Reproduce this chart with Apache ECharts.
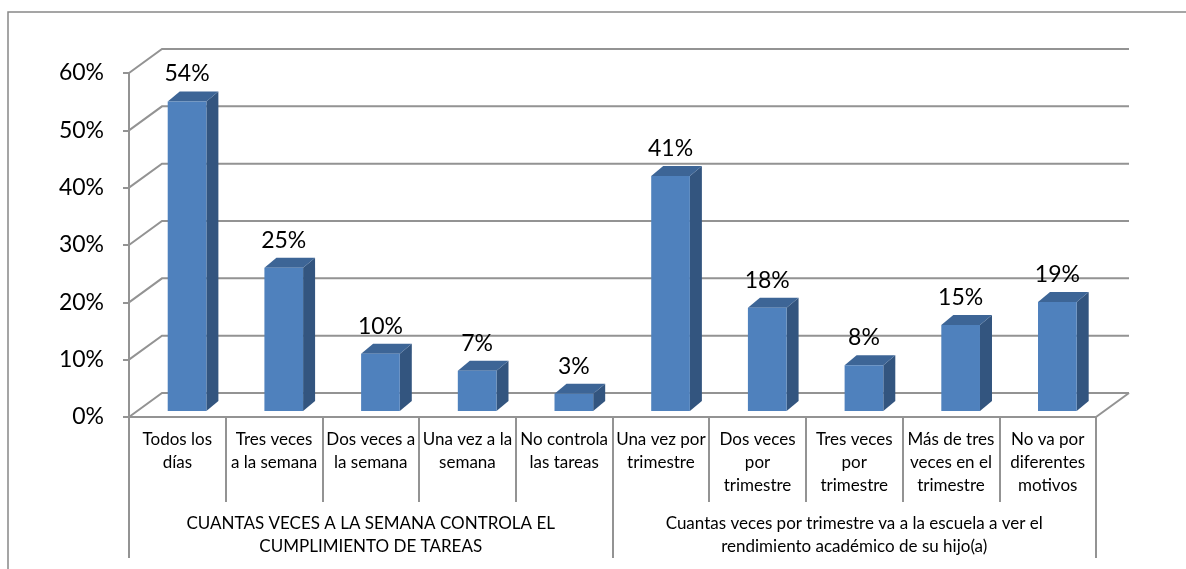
<!DOCTYPE html>
<html>
<head>
<meta charset="utf-8">
<title>Control de tareas y visitas a la escuela</title>
<script src="https://cdn.jsdelivr.net/npm/echarts@6/dist/echarts.min.js"></script>
<style>
    html, body { margin: 0; padding: 0; background: #fff; }
    #chart { width: 1186px; height: 569px; }
</style>
</head>
<body>
<div id="chart"></div>
<script>
// categorias (primer nivel) y grupos (segundo nivel)
var categorias = [
    'Todos los\ndías', 'Tres veces\na la semana', 'Dos veces a\nla semana', 'Una vez a la\nsemana', 'No controla\nlas tareas',
    'Una vez por\ntrimestre', 'Dos veces\npor\ntrimestre', 'Tres veces\npor\ntrimestre', 'Más de tres\nveces en el\ntrimestre', 'No va por\ndiferentes\nmotivos'
];
var grupos = [
    'CUANTAS VECES A LA SEMANA CONTROLA EL\nCUMPLIMIENTO DE TAREAS',
    'Cuantas veces por trimestre va a la escuela a ver el\nrendimiento académico de su hijo(a)'
];
var porcentajes = [54, 25, 10, 7, 3, 41, 18, 8, 15, 19];
var ticks = [0, 10, 20, 30, 40, 50, 60];

var fuente = 'Lato';
var gris = '#939393';
// profundidad de la pared del fondo
var PX = 33, PY = -24;

var myChart = echarts.init(document.getElementById('chart'));

// paredes 3D: lineas de division en el fondo
function paredes(params, api) {
    var v = api.value(1);
    var y = api.coord([0, v])[1];
    var cs = params.coordSys;
    var x0 = cs.x, x1 = cs.x + cs.width;
    var hijos = [{
        type: 'polyline',
        shape: { points: [[x0, y], [x0 + PX, y + PY], [x1 + PX, y + PY]] },
        style: { stroke: gris, lineWidth: 2, fill: null }
    }];
    if (v === 0) {
        hijos.push({
            type: 'line',
            shape: { x1: x1, y1: y, x2: x1 + PX, y2: y + PY },
            style: { stroke: gris, lineWidth: 2 }
        });
    }
    return { type: 'group', children: hijos };
}

// barras 3D: cara frontal, lateral y superior
function barras(params, api) {
    var i = api.value(0), v = api.value(1);
    var tope = api.coord([i, v]);
    var base = api.coord([i, 0]);
    var w = api.size([1, 0])[0] * 0.4;
    var cx = tope[0] + 9.7;
    var l = cx - w / 2, r = cx + w / 2;
    var t = tope[1] - 6, b = base[1] - 6;
    var dx = 12, dy = -10;
    return {
        type: 'group',
        children: [{
            type: 'polygon',
            shape: { points: [[r, t], [r + dx, t + dy], [r + dx, b + dy], [r, b]] },
            style: { fill: '#33557f' }
        }, {
            type: 'polygon',
            shape: { points: [[l, t], [r, t], [r + dx, t + dy], [l + dx, t + dy]] },
            style: { fill: '#3d6596' }
        }, {
            type: 'rect',
            shape: { x: l, y: t, width: w, height: b - t },
            style: { fill: '#4f81bd' }
        }, {
            type: 'text',
            x: cx,
            y: t + dy - 6,
            style: {
                text: v + '%',
                fill: '#000',
                font: '23px ' + fuente,
                align: 'center',
                verticalAlign: 'bottom'
            }
        }]
    };
}

var option = {
    animation: false,
    graphic: [{
        type: 'rect',
        shape: { x: 8, y: 12, width: 1300, height: 700 },
        style: { fill: null, stroke: '#888', lineWidth: 1.5 },
        silent: true
    }],
    grid: { left: 129, right: 90, top: 73, bottom: 152 },
    xAxis: [{
        type: 'category',
        data: categorias,
        axisLine: { lineStyle: { color: gris, width: 2 } },
        axisTick: { show: true, length: 85, interval: 0, lineStyle: { color: gris, width: 2 } },
        axisLabel: { interval: 0, margin: 11, color: '#000', fontFamily: fuente, fontSize: 17, lineHeight: 23 }
    }, {
        type: 'category',
        data: grupos,
        position: 'bottom',
        axisLine: { show: false },
        axisTick: { show: true, length: 141, interval: 0, lineStyle: { color: gris, width: 2 } },
        axisLabel: { interval: 0, margin: 95, color: '#000', fontFamily: fuente, fontSize: 17, lineHeight: 23 }
    }],
    yAxis: {
        type: 'value',
        min: 0,
        max: 60,
        interval: 10,
        axisLine: { show: true, lineStyle: { color: gris, width: 2 } },
        axisTick: { show: true, length: 6, lineStyle: { color: gris, width: 2 } },
        splitLine: { show: false },
        axisLabel: { formatter: '{value}%', margin: 25, color: '#000', fontFamily: fuente, fontSize: 23 }
    },
    series: [{
        type: 'custom',
        renderItem: paredes,
        clip: false,
        silent: true,
        data: ticks.map(function (v) { return [0, v]; }),
        z: 1
    }, {
        type: 'custom',
        renderItem: barras,
        clip: false,
        data: porcentajes.map(function (v, i) { return [i, v]; }),
        z: 2
    }]
};
myChart.setOption(option);
</script>
</body>
</html>
